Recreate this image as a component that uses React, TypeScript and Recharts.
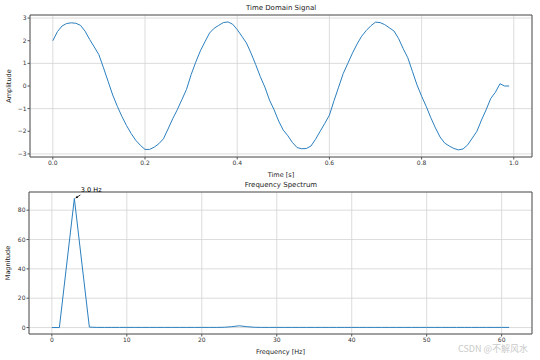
import { LineChart, Line, XAxis, YAxis, CartesianGrid, ReferenceArea, ReferenceDot } from "recharts";

const timeAxis: number[] = Array.from({ length: 100 }, (_, i) => i / 100);
const amplitude: number[] = [
  2.0, 2.4, 2.65, 2.76, 2.79, 2.77, 2.68, 2.42, 2.05, 1.72,
  1.38, 0.8, 0.2, -0.4, -0.9, -1.35, -1.75, -2.1, -2.4, -2.62,
  -2.8, -2.8, -2.7, -2.55, -2.33, -1.9, -1.45, -1.05, -0.6, -0.15,
  0.5, 1.05, 1.55, 1.95, 2.34, 2.55, 2.68, 2.8, 2.83, 2.73,
  2.49, 2.2, 1.9, 1.45, 0.95, 0.42, -0.05, -0.62, -1.05, -1.55,
  -1.95, -2.2, -2.5, -2.72, -2.77, -2.76, -2.65, -2.35, -2.0, -1.65,
  -1.29, -0.65, -0.05, 0.55, 1.0, 1.45, 1.85, 2.2, 2.45, 2.66,
  2.82, 2.8, 2.71, 2.57, 2.43, 2.1, 1.65, 1.25, 0.65, 0.05,
  -0.45, -0.9, -1.4, -1.85, -2.25, -2.52, -2.65, -2.76, -2.82, -2.78,
  -2.6, -2.3, -2.0, -1.5, -1.05, -0.55, -0.28, 0.1, 0.0, 0.0,
];

const freqAxis: number[] = Array.from({ length: 62 }, (_, i) => i);
const magnitude: number[] = [
  0, 0, 44, 88, 44, 0.3, 0.1, 0.1, 0.1, 0.1,
  0.1, 0.1, 0.1, 0.1, 0.1, 0.1, 0.1, 0.1, 0.1, 0.1,
  0.1, 0.1, 0.1, 0.2, 0.6, 1.2, 0.6, 0.2, 0.1, 0.1,
  0.1, 0.1, 0.1, 0.1, 0.1, 0.1, 0.1, 0.1, 0.1, 0.1,
  0.1, 0.1, 0.1, 0.1, 0.1, 0.1, 0.1, 0.1, 0.1, 0.1,
  0.1, 0.1, 0.1, 0.1, 0.1, 0.1, 0.1, 0.1, 0.1, 0.1,
  0.1, 0.1,
];

const timeTicks = [0, 0.2, 0.4, 0.6, 0.8, 1.0];
const ampTicks = [-3, -2, -1, 0, 1, 2, 3];
const freqTicks = [0, 10, 20, 30, 40, 50, 60];
const magTicks = [0, 20, 40, 60, 80];

const timeData = timeAxis.map((t, i) => ({ t, v: amplitude[i] }));
const freqData = freqAxis.map((f, i) => ({ f, m: magnitude[i] }));

const FONT = "DejaVu Sans, sans-serif";
const BLUE = "#2b7fbf";
const GRID = "#d3d3d3";
const FRAME = "#555";
const tick = { fontSize: 6, fill: "#333", fontFamily: FONT };
const labelStyle = { fontSize: 6.5, fill: "#222", fontFamily: FONT };

const tDomain: [number, number] = [-0.0495, 1.0395];
const aDomain: [number, number] = [-3.135, 3.135];
const fDomain: [number, number] = [-3.05, 64.05];
const mDomain: [number, number] = [-4.4, 92.4];

function PeakLabel(props: any) {
  const { cx, cy } = props;
  if (cx == null || cy == null) return null;
  return (
    <g>
      <line x1={cx + 6} y1={cy - 3.5} x2={cx + 1.5} y2={cy - 0.5} stroke="#000" strokeWidth={0.8} />
      <path d={`M${cx + 1} ${cy - 0.3} L${cx + 3.8} ${cy - 0.6} L${cx + 2.6} ${cy - 2.6} Z`} fill="#000" />
      <text x={cx + 6.5} y={cy - 6} fontSize={6.5} fontFamily={FONT} fill="#000">
        3.0 Hz
      </text>
    </g>
  );
}

export default function App() {
  return (
    <div style={{ position: "absolute", left: 0, top: 0, width: 540, height: 360, background: "#fff", fontFamily: FONT }}>
      <div style={{ position: "absolute", left: 0, width: 540, textAlign: "center", paddingLeft: 22, boxSizing: "border-box", fontSize: 7, top: 4, color: "#222" }}>
        Time Domain Signal
      </div>
      <LineChart width={540} height={180} data={timeData} margin={{ top: 15, right: 8, bottom: 0, left: 0 }}>
        <CartesianGrid stroke={GRID} strokeWidth={0.8} />
        <XAxis
          dataKey="t"
          type="number"
          domain={tDomain}
          ticks={timeTicks}
          tickFormatter={(v: number) => v.toFixed(1)}
          tick={tick}
          tickSize={2.5}
          tickMargin={1}
          height={23}
          axisLine={false}
          tickLine={{ stroke: FRAME }}
          allowDataOverflow
          label={{ value: "Time [s]", position: "insideBottom", offset: 3, style: labelStyle }}
        />
        <YAxis
          type="number"
          domain={aDomain}
          ticks={ampTicks}
          tickFormatter={(v: number) => (v < 0 ? `\u2212${Math.abs(v)}` : `${v}`)}
          tick={tick}
          tickSize={2.5}
          tickMargin={1}
          width={30}
          axisLine={false}
          tickLine={{ stroke: FRAME }}
          allowDataOverflow
          label={{ value: "Amplitude", angle: -90, position: "insideLeft", offset: 9, style: { ...labelStyle, textAnchor: "middle" } }}
        />
        <ReferenceArea x1={tDomain[0]} x2={tDomain[1]} y1={aDomain[0]} y2={aDomain[1]} fill="none" stroke={FRAME} strokeWidth={1} ifOverflow="visible" />
        <Line dataKey="v" stroke={BLUE} strokeWidth={1} dot={false} type="linear" isAnimationActive={false} />
      </LineChart>

      <div style={{ position: "absolute", left: 0, width: 540, textAlign: "center", paddingLeft: 22, boxSizing: "border-box", fontSize: 7, top: 181, color: "#222" }}>
        Frequency Spectrum
      </div>
      <LineChart width={540} height={180} data={freqData} margin={{ top: 12, right: 8, bottom: 3, left: 0 }}>
        <CartesianGrid stroke={GRID} strokeWidth={0.8} />
        <XAxis
          dataKey="f"
          type="number"
          domain={fDomain}
          ticks={freqTicks}
          tick={tick}
          tickSize={2.5}
          tickMargin={1}
          height={23}
          axisLine={false}
          tickLine={{ stroke: FRAME }}
          allowDataOverflow
          label={{ value: "Frequency [Hz]", position: "insideBottom", offset: 3, style: labelStyle }}
        />
        <YAxis
          type="number"
          domain={mDomain}
          ticks={magTicks}
          tick={tick}
          tickSize={2.5}
          tickMargin={1}
          width={29}
          axisLine={false}
          tickLine={{ stroke: FRAME }}
          allowDataOverflow
          label={{ value: "Magnitude", angle: -90, position: "insideLeft", offset: 8, style: { ...labelStyle, textAnchor: "middle" } }}
        />
        <ReferenceArea x1={fDomain[0]} x2={fDomain[1]} y1={mDomain[0]} y2={mDomain[1]} fill="none" stroke={FRAME} strokeWidth={1} ifOverflow="visible" />
        <Line dataKey="m" stroke={BLUE} strokeWidth={1} dot={false} type="linear" isAnimationActive={false} />
        <ReferenceDot x={3} y={88} r={0} ifOverflow="visible" shape={(p: any) => <PeakLabel {...p} />} />
      </LineChart>

      <div style={{ position: "absolute", left: 458, top: 343, fontSize: 9, lineHeight: "12px", color: "#cacaca", fontFamily: "Noto Sans CJK SC, sans-serif", whiteSpace: "nowrap" }}>
        CSDN @不解风水
      </div>
    </div>
  );
}
